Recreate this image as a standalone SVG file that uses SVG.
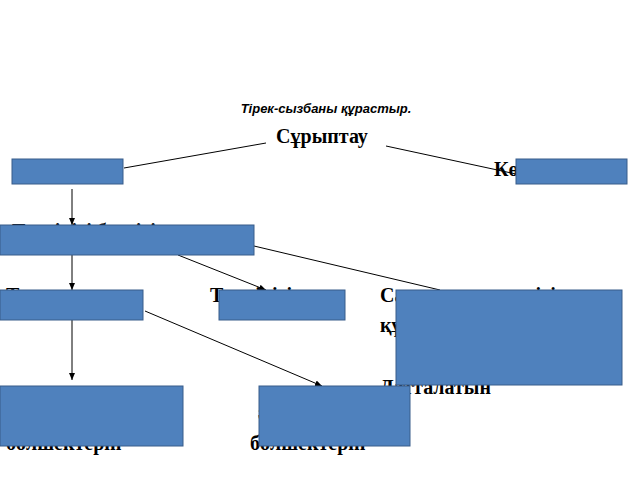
<svg xmlns="http://www.w3.org/2000/svg" width="640" height="480" viewBox="0 0 640 480">
<defs><marker id="a" markerWidth="8" markerHeight="8" refX="7" refY="4" orient="auto" markerUnits="userSpaceOnUse"><path d="M0,1 L7,4 L0,7 Z" fill="#000"/></marker>
<style>.b{fill:#4f81bd;stroke:#385d8a;stroke-width:1}.t{font-family:"Liberation Serif",serif;font-weight:bold;font-size:20px;fill:#000}.c{stroke:#000;stroke-width:1;fill:none}</style></defs>
<rect width="640" height="480" fill="#fff"/>
<text x="326" y="113" text-anchor="middle" font-family="Liberation Sans,sans-serif" font-style="italic" font-weight="bold" font-size="13">Тірек-сызбаны құрастыр.</text>
<text class="t" x="322" y="143" text-anchor="middle">Сұрыптау</text>
<text class="t" x="494" y="176">Көлемі</text>
<text class="t" x="12" y="238">Тектілігі белгісі</text>
<text class="t" x="6" y="302">Тұрақтылық</text>
<text class="t" x="210" y="302">Түрлілігін</text>
<text class="t" x="380" y="302">Сандық ерекшелігі</text>
<text class="t" x="380" y="332">құрамы</text>
<text class="t" x="380" y="394">Датталатын</text>
<text class="t" x="258" y="420">ә</text>
<text class="t" x="6" y="450">бөлшектерін</text>
<text class="t" x="250" y="450">бөлшектерін</text>
<g id="conn">
<line class="c" x1="124" y1="168" x2="266" y2="143"/>
<line class="c" x1="386" y1="146" x2="516" y2="174"/>
<line class="c" x1="72" y1="189" x2="72" y2="225" marker-end="url(#a)"/>
<line class="c" x1="72" y1="255" x2="72" y2="290" marker-end="url(#a)"/>
<line class="c" x1="178" y1="255" x2="266" y2="290" marker-end="url(#a)"/>
<line class="c" x1="254" y1="246" x2="440" y2="290"/>
<line class="c" x1="72" y1="320" x2="72" y2="380" marker-end="url(#a)"/>
<line class="c" x1="145" y1="311" x2="322" y2="386" marker-end="url(#a)"/>
</g>
<g id="n1"><rect class="b" x="12" y="159" width="111" height="25"/></g>
<g id="n2"><rect class="b" x="516" y="159" width="111" height="25"/></g>
<g id="n3"><rect class="b" x="0" y="225" width="254" height="30"/></g>
<g id="n4"><rect class="b" x="0" y="290" width="143" height="30"/></g>
<g id="n5"><rect class="b" x="219" y="290" width="126" height="30"/></g>
<g id="n6"><rect class="b" x="396" y="290" width="226" height="95"/></g>
<g id="n7"><rect class="b" x="0" y="386" width="183" height="60"/></g>
<g id="n8"><rect class="b" x="259" y="386" width="151" height="60"/></g>
</svg>
